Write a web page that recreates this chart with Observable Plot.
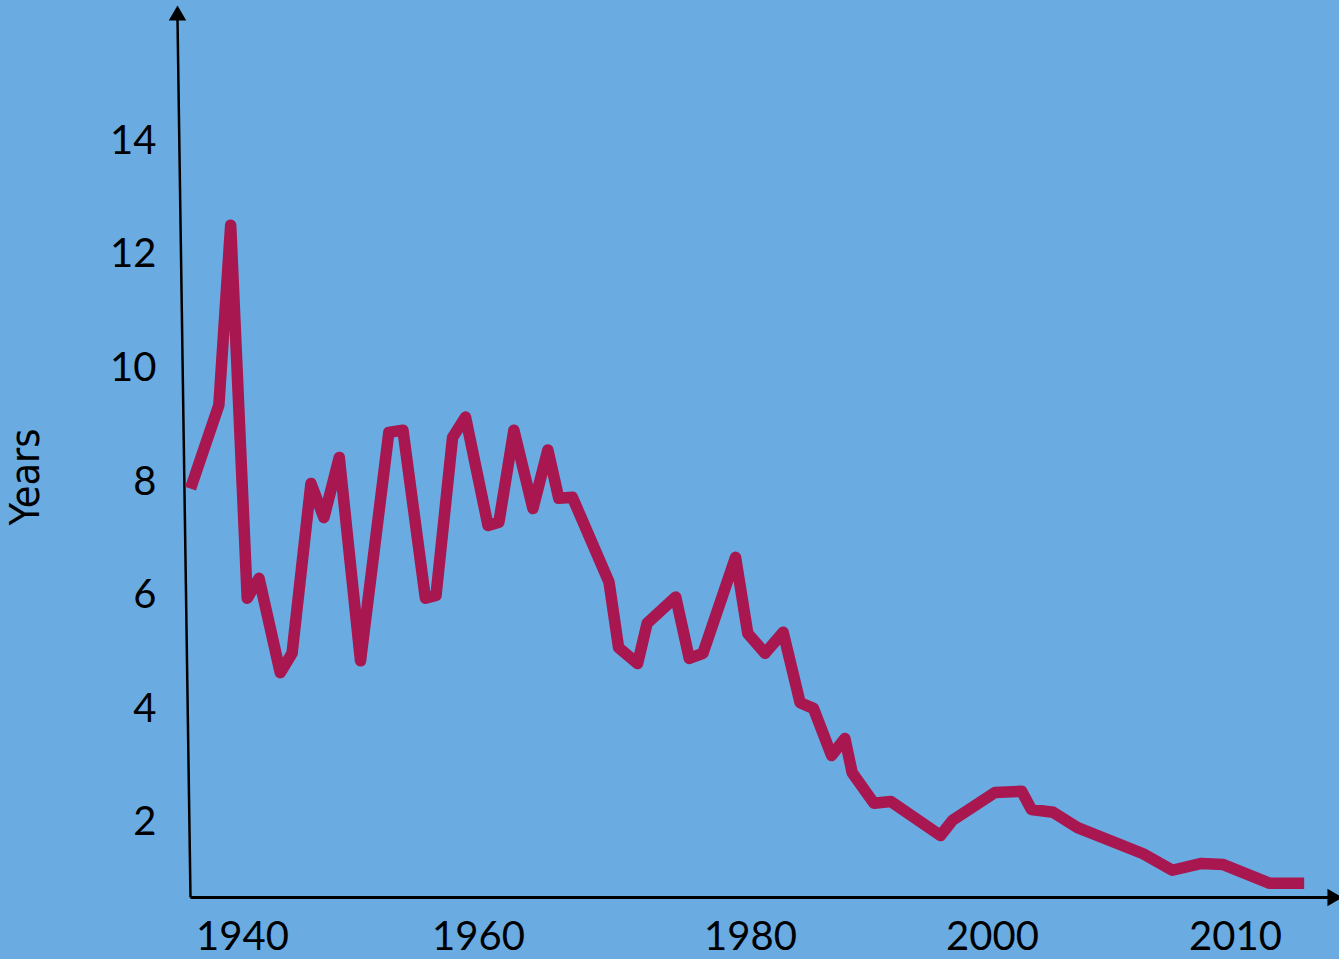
<!DOCTYPE html>
<html>
<head>
<meta charset="utf-8">
<script src="https://cdn.jsdelivr.net/npm/d3@7"></script>
<script src="https://cdn.jsdelivr.net/npm/@observablehq/plot@0.6"></script>
<style>
  html, body { margin: 0; padding: 0; background: #6aabe2; overflow: hidden; }
  #chart svg { display: block; }
</style>
</head>
<body>
<div id="chart"></div>
<script>
// Series (years, values in years)
const years = [1935.6, 1938.0, 1939.0, 1940.4, 1941.4, 1943.2, 1944.2, 1945.8, 1946.9, 1948.2,
  1950.0, 1952.4, 1953.6, 1955.5, 1956.4, 1957.8, 1958.9, 1960.7, 1961.5, 1962.6,
  1964.0, 1965.1, 1965.9, 1966.9, 1969.6, 1970.3, 1971.7, 1972.4, 1974.5, 1975.5,
  1976.5, 1978.9, 1979.8, 1981.2, 1982.7, 1984.1, 1985.2, 1986.7, 1987.8, 1988.4,
  1990.2, 1991.6, 1995.7, 1996.7, 2000.1, 2001.2, 2001.6, 2002.5, 2003.5, 2006.2,
  2007.4, 2008.6, 2009.5, 2011.4, 2012.8];
const values = [7.88, 9.35, 12.52, 5.95, 6.30, 4.64, 4.98, 7.97, 7.37, 8.43,
  4.85, 8.87, 8.91, 5.95, 6.00, 8.78, 9.14, 7.23, 7.29, 8.91,
  7.53, 8.56, 7.71, 7.73, 6.23, 5.08, 4.80, 5.51, 5.97, 4.89,
  4.98, 6.67, 5.33, 4.98, 5.35, 4.11, 4.01, 3.18, 3.48, 2.88,
  2.34, 2.37, 1.77, 2.04, 2.53, 2.55, 2.23, 2.18, 1.91, 1.45,
  1.16, 1.28, 1.26, 0.93, 0.93];

const xTicks = [1940, 1960, 1980, 2000, 2010];
const yTicks = [2, 4, 6, 8, 10, 12, 14];
const yLabel = "Years";

const data = years.map((year, i) => ({year, value: values[i]}));

// Axis geometry in data units (uneven year spacing of the original axis)
const xDomain = [1934.5, 1940, 1960, 1980, 2000, 2010, 2014.2];
const xRange = [177, 242, 478, 750, 992, 1235, 1338];
const yDomain = [0.68, 16.3];
const xOrigin = 1935.6;

const W = 1339, H = 959;

const chart = Plot.plot({
  width: W,
  height: H,
  marginLeft: 177,
  marginRight: 1,
  marginTop: 10,
  marginBottom: 62,
  style: {background: "#6aabe2", fontFamily: "Lato, 'Open Sans', sans-serif", color: "black", overflow: "visible"},
  x: {type: "linear", domain: xDomain, range: xRange, clamp: false},
  y: {domain: yDomain},
  marks: [
    Plot.axisX({ticks: xTicks, tickFormat: d => String(d), tickSize: 0, tickPadding: 24, fontSize: 40, label: null}),
    Plot.axisY({ticks: yTicks, tickSize: 0, tickPadding: 21, fontSize: 40, label: null}),
    Plot.text([yLabel], {frameAnchor: "left", dx: -152, dy: 23, rotate: -90, fontSize: 41,
      fontFamily: "'Liberation Sans Narrow', 'DejaVu Sans Condensed', sans-serif", textAnchor: "middle", lineAnchor: "middle", fill: "black"}),
    // y axis line (slightly slanted, as in the original)
    Plot.link([0], {x1: () => xOrigin, y1: () => yDomain[0], x2: () => xDomain[0], y2: () => yDomain[1] - 0.15, stroke: "black", strokeWidth: 2.5}),
    Plot.dot([0], {x: () => xDomain[0], y: () => yDomain[1], symbol: "triangle", r: 6.5, fill: "black", stroke: "none", dy: 5}),
    // x axis line
    Plot.link([0], {x1: () => xOrigin, y1: () => yDomain[0], x2: () => xDomain[xDomain.length - 1], y2: () => yDomain[0], stroke: "black", strokeWidth: 3}),
    Plot.dot([0], {x: () => xDomain[xDomain.length - 1], y: () => yDomain[0], symbol: "triangle", rotate: 90, r: 6.5, fill: "black", stroke: "none", dx: -6}),
    Plot.line(data, {x: "year", y: "value", stroke: "#a8174f", strokeWidth: 11.5, strokeLinejoin: "round", strokeLinecap: "butt"})
  ]
});

document.getElementById("chart").appendChild(chart);
</script>
</body>
</html>
